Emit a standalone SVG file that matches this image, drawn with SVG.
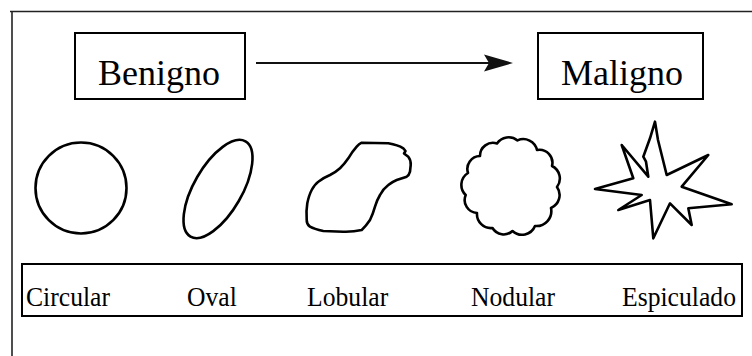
<svg xmlns="http://www.w3.org/2000/svg" width="752" height="356" viewBox="0 0 752 356">
  <style>
    .frame { fill: none; stroke: #222; stroke-width: 1.6; }
    .box { fill: #fff; stroke: #000; stroke-width: 2; }
    .shape { fill: none; stroke: #000; stroke-width: 2.6; stroke-linejoin: round; stroke-linecap: round; }
    .big { font-family: "Liberation Serif", "Times New Roman", serif; font-size: 36px; fill: #000; }
    .lbl { font-family: "Liberation Serif", "Times New Roman", serif; font-size: 27px; fill: #000; }
    .conn { stroke: #111; stroke-width: 1.8; fill: none; }
  </style>
  <rect x="0" y="0" width="752" height="356" fill="#fff"/>
  <g id="frame">
    <line class="frame" x1="10" y1="11.5" x2="752" y2="11.5"/>
    <line class="frame" x1="12" y1="11" x2="12" y2="356"/>
  </g>
  <g id="benigno">
    <rect class="box" x="75" y="33" width="170" height="66"/>
    <text class="big" x="159" y="85" text-anchor="middle">Benigno</text>
  </g>
  <g id="maligno">
    <rect class="box" x="538" y="33" width="165" height="66"/>
    <text class="big" x="622" y="85" text-anchor="middle">Maligno</text>
  </g>
  <g id="connectors">
    <line class="conn" x1="256" y1="63" x2="492" y2="63"/>
    <path d="M513 63 L484 54.5 L489 63 L484 71.5 Z" fill="#111"/>
  </g>
  <g id="shapes">
    <circle class="shape" cx="81" cy="188" r="45.5"/>
    <ellipse class="shape" cx="218" cy="189" rx="55" ry="24" transform="rotate(-60 218 189)"/>
    <path class="shape" d="M361.7 142.7 L388.3 143.3 Q398 145 403.3 148.3 L405.5 151 L404 153.5 L408.3 156.7 Q411 160 410.7 165 L410 171.7 Q409 175.5 406.7 176.7 Q401 178.5 396.7 180 Q392 182 388.3 185 Q383 189 380 195 Q377 200 375 206.7 Q373 214 370 220 Q366 226 361.7 230 Q353 232 343.3 231.7 L323.3 231 Q314 229 310 226.7 Q306.5 224 306.7 220 Q306 211 307.3 203.3 Q309 195 311.7 190 Q315 184 318.3 181.7 Q324 177.5 330 175 Q336 172 340 168.3 Q344.5 164 348.3 158.3 Q352 152 356.7 146.7 Q359 144 361.7 142.7 Z"/>
    <path class="shape" d="M557 187 A14 14 0 0 1 551 208 A15 15 0 0 1 535 226 A14 14 0 0 1 512.5 231 A13 13 0 0 1 492.5 228 A14 14 0 0 1 477 213 A13 13 0 0 1 465.7 195 A14 14 0 0 1 468 173 A13 13 0 0 1 480 156 A13 13 0 0 1 497 143.5 A14 14 0 0 1 517.5 140.4 A14 14 0 0 1 537 150 A13 13 0 0 1 552 166 A14 14 0 0 1 557 187 Z"/>
    <path class="shape" d="M655 121.7 L658 140 L666.7 175 L708.3 155 L681.7 186.7 L731.7 204.3 L688.3 208.3 L691.7 225 L670 203.3 L653.3 238.3 L650 200 L618.3 210 L641.7 195 L595 189 L633.3 178.3 L621.7 145 L648.3 176.7 L646 161.7 L643.3 156.7 L650 138.3 Z"/>
  </g>
  <g id="labels">
    <rect class="box" x="22" y="264" width="720" height="52"/>
    <text class="lbl" transform="translate(26 306) scale(0.95 1)">Circular</text>
    <text class="lbl" transform="translate(187 306) scale(0.95 1)">Oval</text>
    <text class="lbl" transform="translate(307 306) scale(0.95 1)">Lobular</text>
    <text class="lbl" transform="translate(471 306) scale(0.95 1)">Nodular</text>
    <text class="lbl" transform="translate(622 306) scale(0.95 1)">Espiculado</text>
  </g>
</svg>
